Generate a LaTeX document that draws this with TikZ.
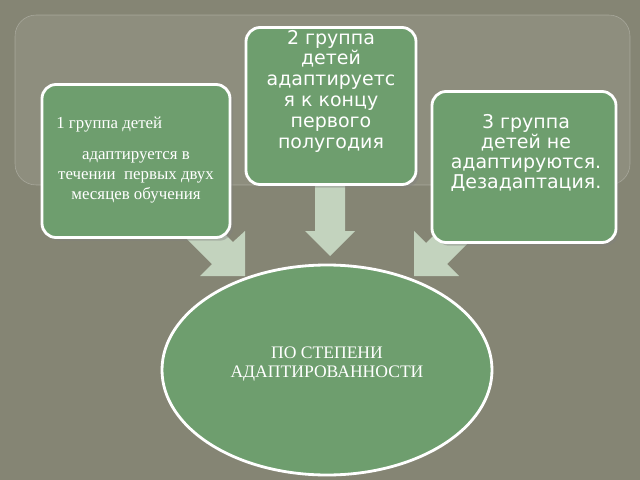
\documentclass[tikz,border=0pt]{standalone}
\usepackage{fontspec}
\setmainfont{Liberation Serif}
\newfontfamily\boxfont{DejaVu Sans}
\usetikzlibrary{shadows}
\definecolor{bgGray}{HTML}{858574}
\definecolor{boxGreen}{HTML}{6E9E6E}
\definecolor{arrowGreen}{HTML}{C3D3BE}
\tikzset{
  greenBox/.style={rectangle, rounded corners=10pt, draw=white, line width=2pt, fill=boxGreen, text=white, align=center, drop shadow={opacity=0.4}},
  boxText/.style={text=white, align=center},
  blockArrow/.style={fill=arrowGreen}
}
\begin{document}
\begin{tikzpicture}[x=0.025cm, y=-0.025cm]

		%background
		\fill[bgGray] (0,0) rectangle (640,480);
		\useasboundingbox (0,0) rectangle (640,480);
		\fill[white, opacity=0.08, rounded corners=15pt] (15,15) rectangle (630,185);
		\draw[white, opacity=0.25, rounded corners=15pt] (15,15) rectangle (630,185);

		%arrows
		\fill[blockArrow] (315,185) -- (345,185) -- (345,231) -- (355,231) -- (330,256) -- (305,231) -- (315,231) -- cycle;
		\fill[blockArrow] (182,234) -- (212,264) -- (200,276) -- (245,276) -- (245,231) -- (233,242) -- (203,212) -- cycle;
		\fill[blockArrow] (477,234) -- (447,264) -- (459,276) -- (414,276) -- (414,231) -- (426,243) -- (456,213) -- cycle;

		%boxes
		\node (groupOne) at (136,161) [greenBox, minimum width=188*0.025cm, minimum height=153*0.025cm]{};
		\node (groupOneText) at (136,160) [boxText, font=\fontsize{12}{14}\selectfont]{\hspace*{-38pt}1 группа детей\\[8pt] адаптируется в\\ течении\ \ первых двух\\ месяцев обучения};
		\node (groupTwo) at (331,106) [greenBox, minimum width=170*0.025cm, minimum height=157*0.025cm]{};
		\node (groupTwoText) at (331,91) [boxText, font=\boxfont\fontsize{13.5}{14.8}\selectfont]{2 группа\\ детей\\ адаптируетс\\ я к концу\\ первого\\ полугодия};
		\node (groupThree) at (524,167) [greenBox, minimum width=184*0.025cm, minimum height=151*0.025cm]{};
		\node (groupThreeText) at (526,153) [boxText, font=\boxfont\fontsize{13.5}{14.2}\selectfont]{3 группа\\ детей не\\ адаптируются.\\ Дезадаптация.};

		%ellipse
		\fill[boxGreen, draw=white, line width=2pt] (327,370) ellipse (165 and 105);
		\node (degree) at (327,364) [boxText, font=\fontsize{12.5}{13}\selectfont]{ПО СТЕПЕНИ\\ АДАПТИРОВАННОСТИ};

\end{tikzpicture}
\end{document}
